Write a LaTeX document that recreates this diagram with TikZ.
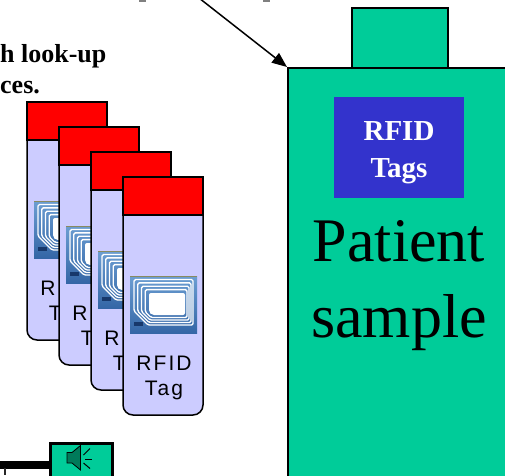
\documentclass[tikz,border=0pt]{standalone}
\usepackage{fontspec}
\setmainfont{Liberation Serif}
\newfontfamily\tagfont[LetterSpace=10]{Liberation Sans}
\usetikzlibrary{arrows.meta,calc}

\definecolor{sampleGreen}{HTML}{00CC99}
\definecolor{tubeBody}{HTML}{CCCCFF}
\definecolor{capRed}{HTML}{FF0000}
\definecolor{tagBlue}{HTML}{3333CC}
\definecolor{chipTop}{HTML}{6C9ED2}
\definecolor{chipBottom}{HTML}{3466A6}
\definecolor{chipDot}{HTML}{17386B}
\definecolor{chipEdge}{HTML}{8A8A60}
\definecolor{speakerFill}{HTML}{007A5A}

\tikzset{
  outline/.style={draw=black, line width=1.5pt},
  container/.style={outline, fill=sampleGreen, inner sep=0pt},
  ring/.style={draw=white, line width=1.4pt, rounded corners=1.5pt},
  tubetext/.style={font=\tagfont\fontsize{21}{24}\selectfont, inner sep=0pt, text=black},
  % RFID chip icon, 67 x 57, origin at its top left corner
  pics/rfidchip/.style={code={
    \shade[top color=chipTop, bottom color=chipBottom] (0,0) rectangle (67,57);
    \draw[chipEdge, line width=0.6pt] (0,0.3) -- (67,0.3);
    \foreach \t in {0,0.25,0.5,0.75}{
      \pgfmathsetmacro\L{4+15*\t}
      \pgfmathsetmacro\R{63-8*\t}
      \pgfmathsetmacro\T{3.5+13.5*\t}
      \pgfmathsetmacro\B{49-10*\t}
      \pgfmathsetmacro\C{14-11*\t}
      \draw[ring] (\L,\T) -- (\R,\T) -- (\R,\B) -- ({\L+\C},\B) -- (\L,{\B-\C}) -- cycle;
    }
    \fill[white, rounded corners=2pt] (19,17) -- (55,17) -- (55,39) -- (22,39) -- (19,36) -- cycle;
    \fill[chipDot] (4,46) rectangle (13,50);
  }},
  % specimen tube with red cap, origin at its top left corner
  pics/sampletube/.style={code={
    \filldraw[fill=tubeBody, outline] (80,20) -- (0,20)
      [rounded corners=10pt] -- (0,238) -- (80,238) [sharp corners] -- cycle;
    \filldraw[fill=capRed, outline] (0,0) rectangle (80,38);
    \pic at (7,99) {rfidchip};
    \node[tubetext, anchor=base] (-line1) at (41,193.5) {\spaceskip=2pt RFI D};
    \node[tubetext, anchor=base] (-line2) at (41,218) {Tag};
  }},
}

\begin{document}
\begin{tikzpicture}[x=1pt, y=-1pt]
  \useasboundingbox (0,0) rectangle (505,475);
  \clip (0,0) rectangle (505,475);

  % fragments of the heading above
  \fill[gray] (139,0) rectangle (146,1.5);
  \fill[gray] (263,0) rectangle (270,1.5);

  % caption text on the left
  \node[font=\bfseries\fontsize{26}{32}\selectfont, anchor=base west, inner sep=0pt] (cap1) at (0,62) {h look-up};
  \node[font=\bfseries\fontsize{26}{32}\selectfont, anchor=base west, inner sep=0pt] (cap2) at (0,93) {ces.};

  % stack of tagged tubes
  \pic (tubeA) at (27,102) {sampletube};
  \pic (tubeB) at (59,127) {sampletube};
  \pic (tubeC) at (91,152) {sampletube};
  \pic (tubeD) at (123,177) {sampletube};

  % patient sample container
  \node[container, minimum width=96, minimum height=60, anchor=north west] (lid) at (351,7) {};
  \node[container, minimum width=240, minimum height=430, anchor=north west] (sample) at (287,67) {};
  \node[fill=tagBlue, inner sep=0pt, minimum width=130, minimum height=101, anchor=north west] (tags) at (334,97) {};
  \node[font=\bfseries\fontsize{29}{36}\selectfont, text=white, anchor=base, inner sep=0pt] (tags1) at (399,140) {RFID};
  \node[font=\bfseries\fontsize{29}{36}\selectfont, text=white, anchor=base, inner sep=0pt] (tags2) at (399,177) {Tags};
  \node[font=\fontsize{62}{76}\selectfont, anchor=base, inner sep=0pt] (label1) at (399,261) {Patient};
  \node[font=\fontsize{62}{76}\selectfont, anchor=base, inner sep=0pt] (label2) at (399,337) {sample};

  % arrow pointing at the container
  \coordinate (feed) at (199,-2);
  \draw[-{Triangle[length=15pt,width=12pt]}, line width=1.5pt] (feed) -- (sample.north west);

  % speaker box and its cable
  \node[draw=black, line width=3pt, fill=sampleGreen, minimum width=62, minimum height=50, anchor=north west] (speaker) at (48.5,441.5) {};
  \coordinate (wire) at (-2,465);
  \draw[line width=8pt] (wire) -- (wire -| speaker.west);
  \fill[black!85] (3.5,468) rectangle (6,475);
  \filldraw[fill=speakerFill, draw=black, line width=0.8pt]
    (67,452.5) -- (72,452.5) -- (80.5,445.5) -- (80.5,470) -- (72,463) -- (67,463) -- cycle;
  \draw[line width=1pt] (83.5,455) -- (90,448.5);
  \draw[line width=1pt] (85,459) -- (91.5,459);
  \draw[line width=1pt] (83.5,463) -- (90,468.5);
\end{tikzpicture}
\end{document}
